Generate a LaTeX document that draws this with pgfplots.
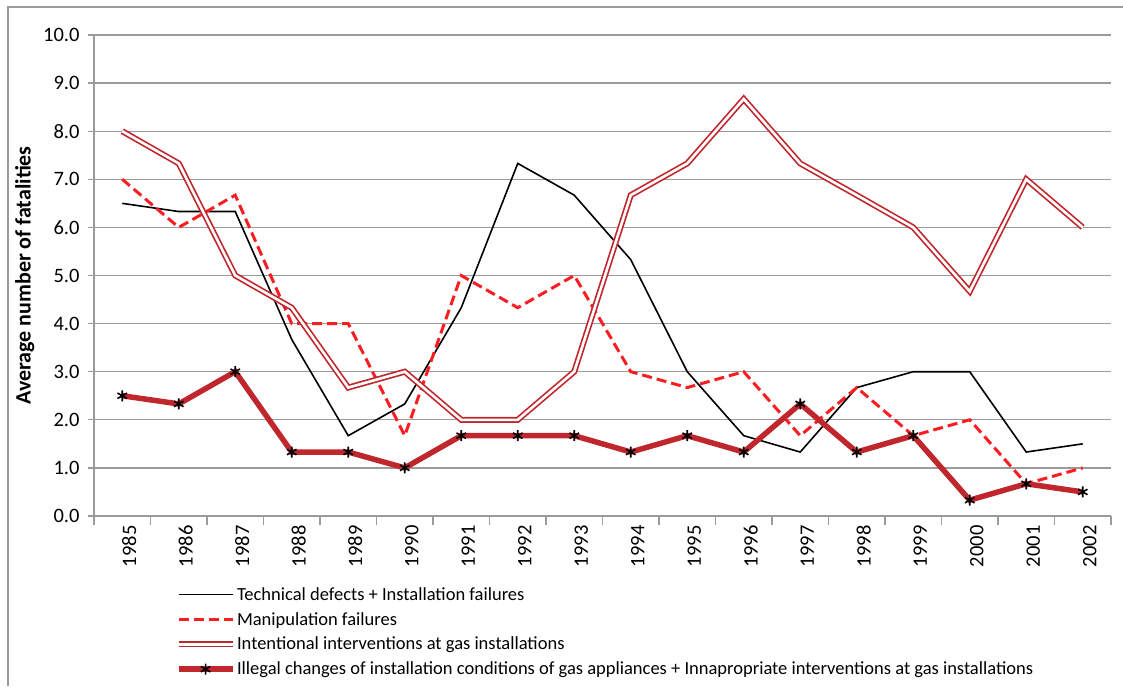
\documentclass[border=0pt]{standalone}
\usepackage{fontspec}
\setmainfont{Carlito}
\usepackage{pgfplots}
\usepackage{pgfplotstable}
\pgfplotsset{compat=1.18}
\definecolor{gridgray}{RGB}{155,155,155}
\definecolor{darkred}{RGB}{192,39,45}
\definecolor{brightred}{RGB}{250,30,35}
\pgfplotstableread{
x tech manip intent illegal
0 6.50 7.00 8.00 2.50
1 6.33 6.00 7.33 2.33
2 6.33 6.67 5.00 3.00
3 3.67 4.00 4.33 1.33
4 1.67 4.00 2.67 1.33
5 2.33 1.67 3.00 1.00
6 4.33 5.00 2.00 1.67
7 7.33 4.33 2.00 1.67
8 6.67 5.00 3.00 1.67
9 5.33 3.00 6.67 1.33
10 3.00 2.67 7.33 1.67
11 1.67 3.00 8.67 1.33
12 1.33 1.67 7.33 2.33
13 2.67 2.67 6.67 1.33
14 3.00 1.67 6.00 1.67
15 3.00 2.00 4.67 0.33
16 1.33 0.67 7.00 0.67
17 1.50 1.00 6.00 0.50
}\datatable
\begin{document}
\begin{tikzpicture}[x=1pt,y=1pt]
\useasboundingbox (0,0) rectangle (1123,686);
\draw[gridgray, line width=1.3pt] (8,0) -- (8,679) -- (1123,679);
\begin{axis}[
  at={(94pt,170pt)}, anchor=south west,
  scale only axis, width=1017pt, height=481pt,
  xmin=-0.5, xmax=17.5, ymin=0, ymax=10,
  axis x line*=bottom, axis y line*=left,
  axis line style={gridgray, line width=1.3pt},
  xtick={0,...,17},
  xticklabels={1985,1986,1987,1988,1989,1990,1991,1992,1993,1994,1995,1996,1997,1998,1999,2000,2001,2002},
  major x tick style={draw=none},
  minor xtick={-0.5,0.5,...,17.5},
  minor tick length=9pt, major tick length=6pt,
  tick align=outside,
  tick style={gridgray, line width=1.2pt},
  ytick={0,1,...,10},
  ymajorgrids, grid style={gridgray, line width=1.2pt},
  yticklabel style={/pgf/number format/fixed, /pgf/number format/fixed zerofill, /pgf/number format/precision=1, font=\fontsize{20.5}{24}\selectfont, xshift=-5pt},
  /pgf/number format/assume math mode=true,
  xticklabel style={rotate=90, anchor=east, font=\fontsize{20.5}{24}\selectfont, yshift=-7pt},
  ylabel={Average number of fatalities},
  every axis y label/.style={at={(axis description cs:-0.068,0.5)}, rotate=90, anchor=center, font=\bfseries\fontsize{22}{26}\selectfont},
  legend style={at={(axis description cs:0.080,-0.145)}, anchor=north west, draw=none, fill=none, font=\fontsize{18.5}{22}\selectfont, row sep=7.5pt, inner sep=0pt, nodes={inner sep=1.5pt, anchor=west}},
  legend cell align=left,
  legend image code/.code={\draw[mark repeat=2,mark phase=2,#1] plot coordinates {(0pt,0pt) (27pt,0pt) (54pt,0pt)};},
]
\addplot[black, line width=1.6pt] table[x=x,y=tech]{\datatable};
\addlegendentry{Technical defects + Installation failures}
\addplot[brightred, line width=3pt, dash pattern=on 10pt off 5pt] table[x=x,y=manip]{\datatable};
\addlegendentry{Manipulation failures}
\addplot[darkred, line width=1.7pt, double=white, double distance=2.6pt,
  legend image code/.code={\draw[darkred, line width=1.7pt, double=white, double distance=2.6pt] (0pt,0pt) -- (54pt,0pt);}] table[x=x,y=intent]{\datatable};
\addlegendentry{Intentional interventions at gas installations}
\addplot[darkred, line width=5.5pt, mark=asterisk, mark size=5.5pt, mark options={draw=black, line width=1.6pt}] table[x=x,y=illegal]{\datatable};
\addlegendentry{Illegal changes of installation conditions of gas appliances + Innapropriate interventions at gas installations}
\end{axis}
\end{tikzpicture}
\end{document}
